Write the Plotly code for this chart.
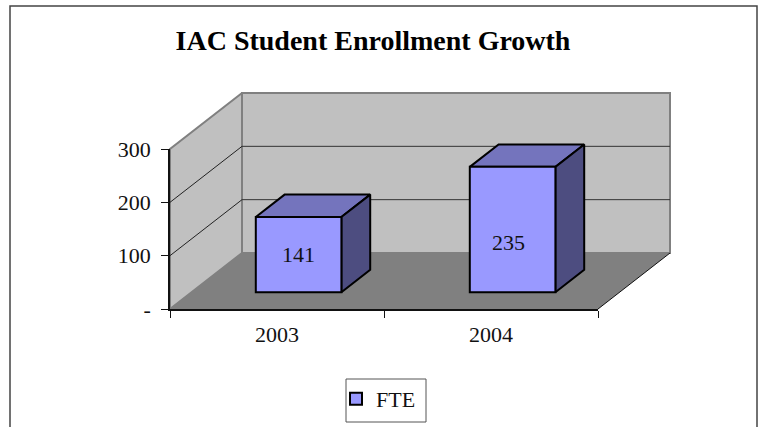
import plotly.graph_objects as go

# data
years = ["2003", "2004"]
fte = [141, 235]
value_ticks = [0, 100, 200, 300]
value_labels = ["-", "100", "200", "300"]
grid_values = [100, 200]

W, H = 762, 427
FRONT_L, FRONT_R, FRONT_TOP, FRONT_BOT = 170, 598, 149, 309  # front plane, px
PX_PER_CAT = (FRONT_R - FRONT_L) / len(years)
PX_PER_VAL = (FRONT_BOT - FRONT_TOP) / value_ticks[-1]
# oblique projection: how far one full unit of depth moves a point
DEPTH_X = 72 / PX_PER_CAT
DEPTH_Y = 56 / PX_PER_VAL
BAR_W = 0.4
D0, D1 = 0.3, 0.7  # bar position in depth
V_MAX = value_ticks[-1]
N = len(years)


def proj(cat, val, depth):
    return cat + depth * DEPTH_X, val + depth * DEPTH_Y


def face(points, fill, line_color=None, line_width=0):
    xs, ys = zip(*[proj(*p) for p in points + [points[0]]])
    return go.Scatter(x=xs, y=ys, mode="lines", fill="toself", fillcolor=fill,
                      line=dict(color=line_color or fill, width=line_width),
                      hoverinfo="skip", showlegend=False)


def seg(p0, p1, color, width):
    xs, ys = zip(proj(*p0), proj(*p1))
    return go.Scatter(x=xs, y=ys, mode="lines", line=dict(color=color, width=width),
                      hoverinfo="skip", showlegend=False)


def px_x(x):
    return x / W


def px_y(y):
    return 1 - y / H


fig = go.Figure()

# walls and floor
fig.add_trace(face([(0, 0, 1), (N, 0, 1), (N, V_MAX, 1), (0, V_MAX, 1)], "#C0C0C0", "#808080", 2))
fig.add_trace(face([(0, 0, 0), (0, 0, 1), (0, V_MAX, 1), (0, V_MAX, 0)], "#C0C0C0", "#808080", 2))
fig.add_trace(face([(0, 0, 0), (N, 0, 0), (N, 0, 1), (0, 0, 1)], "#808080"))
fig.add_trace(seg((N, 0, 0), (N, 0, 1), "#111111", 1))

for v in grid_values:
    fig.add_trace(seg((0, v, 0), (0, v, 1), "#222222", 1))
    fig.add_trace(seg((0, v, 1), (N, v, 1), "#333333", 1))

# top and side faces of the bars
for i, v in enumerate(fte):
    left = i + 0.5 - BAR_W / 2
    right = i + 0.5 + BAR_W / 2
    fig.add_trace(face([(left, v, D0), (right, v, D0), (right, v, D1), (left, v, D1)],
                       "#7474BD", "#000000", 2))
    fig.add_trace(face([(right, 0, D0), (right, 0, D1), (right, v, D1), (right, v, D0)],
                       "#4D4D80", "#000000", 2))

# front faces, real bars on the front-plane axes
bar_x = [proj(i + 0.5, 0, D0)[0] for i in range(N)]
bar_base = [proj(i, 0, D0)[1] for i in range(N)]
fig.add_trace(go.Bar(x=bar_x, y=fte, base=bar_base, width=BAR_W, name="FTE",
                     xaxis="x2", yaxis="y2", showlegend=True,
                     marker=dict(color="#9999FF", line=dict(color="#000000", width=2))))

# the 235 label sits low in its bar in the original
label_shift = [(0, 0), (-4, -13)]
for x, b, v, (sx, sy) in zip(bar_x, bar_base, fte, label_shift):
    fig.add_annotation(x=x, y=b + v / 2, xref="x2", yref="y2", text=str(v), showarrow=False,
                       xshift=sx, yshift=sy, font=dict(size=22, color="#111111"))

fig.update_layout(
    width=W, height=H, margin=dict(l=0, r=0, t=0, b=0, autoexpand=False), autosize=False,
    paper_bgcolor="white", plot_bgcolor="rgba(0,0,0,0)",
    font=dict(family="Liberation Serif", size=22, color="#111111"),
    title=dict(text="<b>IAC Student Enrollment Growth</b>", font=dict(size=28, color="#000000"),
               x=px_x(373), xanchor="center", y=px_y(40), yanchor="middle"),
    showlegend=True,
    legend=dict(x=px_x(336), xanchor="left", y=px_y(399), yanchor="middle",
                borderwidth=0, bgcolor="rgba(0,0,0,0)",
                font=dict(size=22), itemwidth=30),
    xaxis=dict(visible=False, domain=[0, 1],
               range=[-FRONT_L / PX_PER_CAT, (W - FRONT_L) / PX_PER_CAT]),
    yaxis=dict(visible=False, domain=[0, 1],
               range=[(FRONT_BOT - H) / PX_PER_VAL, FRONT_BOT / PX_PER_VAL]),
    xaxis2=dict(domain=[FRONT_L / W, FRONT_R / W], range=[0, N], anchor="y2",
                showgrid=False, zeroline=False, showline=True, linecolor="#111111", linewidth=1.5,
                tickmode="array", tickvals=[i + 0.5 for i in range(N)], ticktext=years,
                ticks="", ticklabelstandoff=5,
                minor=dict(tickmode="array", tickvals=list(range(N + 1)), ticks="outside",
                           ticklen=7, tickcolor="#111111", tickwidth=1)),
    yaxis2=dict(domain=[1 - FRONT_BOT / H, 1 - FRONT_TOP / H], range=[0, V_MAX], anchor="x2",
                showgrid=False, zeroline=False, showline=True,
                linecolor="#111111", linewidth=1.5,
                tickmode="array", tickvals=value_ticks, ticktext=value_labels,
                ticks="outside", ticklen=7, tickcolor="#111111", tickwidth=1,
                ticklabelstandoff=6),
    shapes=[dict(type="rect", xref="paper", yref="paper", x0=px_x(10), x1=px_x(757),
                 y0=-0.05, y1=px_y(6), line=dict(color="#444444", width=1.5)),
            dict(type="rect", xref="paper", yref="paper", x0=px_x(346), x1=px_x(426),
                 y0=px_y(422), y1=px_y(379), line=dict(color="#555555", width=1))],
)

# drop the page's default 8px body margin so the chart sits at the window corner
fig.write_html("out.html", config={"displayModeBar": False},
               post_script="document.body.style.margin = '0';")
